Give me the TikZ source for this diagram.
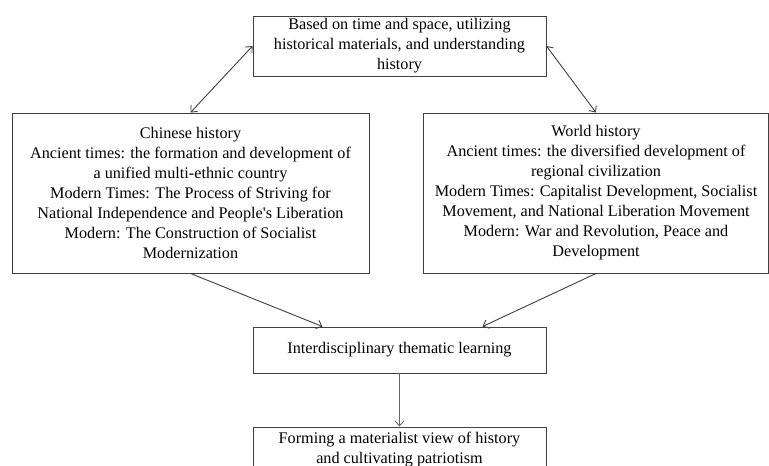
\documentclass[tikz,border=0pt]{standalone}
\usepackage{fontspec}
\setmainfont{Liberation Serif}
\usetikzlibrary{arrows.meta}
\begin{document}
\begin{tikzpicture}[x=1pt, y=-1pt,
        box/.style={draw=black!75, line width=0.9pt, align=center, inner sep=0pt,
            font=\fontsize{16.2}{20}\selectfont},
        link/.style={draw=black!75, line width=0.9pt},
        >={Straight Barb[length=5pt, width=9pt]}]
        \path[use as bounding box, clip] (0, 0) rectangle (769, 466);

        \node[box, minimum width=293, minimum height=60] at (399.5, 46)(top){Based on time and space, utilizing\\historical materials, and understanding\\history};
        \node[box, minimum width=357, minimum height=160] at (190.5, 193)(chn){Chinese history\\Ancient times: the formation and development of\\a unified multi-ethnic country\\Modern Times: The Process of Striving for\\National Independence and People\textquotesingle s Liberation\\Modern: The Construction of Socialist\\Modernization};
        \node[box, minimum width=345, minimum height=160] at (596, 193)(wld){World history\\Ancient times: the diversified development of\\regional civilization\\Modern Times: Capitalist Development, Socialist\\Movement, and National Liberation Movement\\Modern: War and Revolution, Peace and\\Development};
        \node[box, minimum width=293, minimum height=46] at (399.5, 350)(mid){Interdisciplinary thematic learning};
        \node[box, minimum width=293, minimum height=46] at (399.5, 450)(end){Forming a materialist view of history\\and cultivating patriotism};

        \draw[link, <->](top.west) to (chn.north);
        \draw[link, <->](top.east) to (wld.north);
            \draw[link, ->](chn.south) to ([xshift=-77]mid.north);
            \draw[link, ->](wld.south) to ([xshift=83]mid.north);
        \draw[link, ->, draw=black!60](mid.south) to (end.north);
    \end{tikzpicture}
\end{document}
